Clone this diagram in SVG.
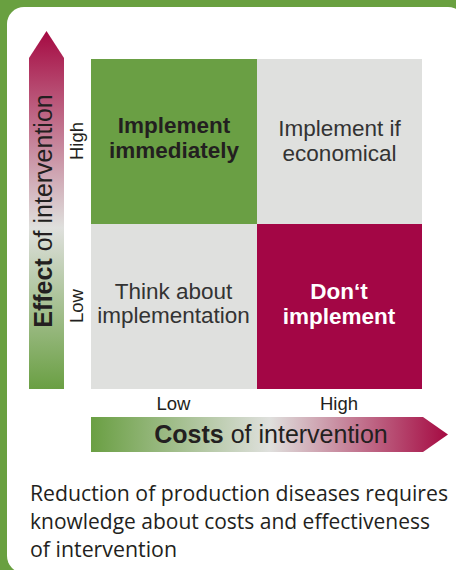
<svg xmlns="http://www.w3.org/2000/svg" width="456" height="570" viewBox="0 0 456 570">
  <defs>
    <linearGradient id="gradV" x1="0" y1="1" x2="0" y2="0">
      <stop offset="0" stop-color="#6a9f43"/>
      <stop offset="0.45" stop-color="#dfe0dd"/>
      <stop offset="1" stop-color="#a50a42"/>
    </linearGradient>
    <linearGradient id="gradH" x1="0" y1="0" x2="1" y2="0">
      <stop offset="0" stop-color="#6a9f43"/>
      <stop offset="0.5" stop-color="#dfe0dd"/>
      <stop offset="1" stop-color="#a50a42"/>
    </linearGradient>
    <style>
      .t { font-family: "Liberation Sans", Arial, sans-serif; }
      .cell-b { font-size: 22.5px; font-weight: bold; text-anchor: middle; }
      .cell-n { font-size: 22.5px; text-anchor: middle; fill: #333333; }
      .lvl { font-size: 18.5px; text-anchor: middle; fill: #231f20; }
      .axis { font-size: 25px; text-anchor: middle; fill: #231f20; }
      .cap { font-family: "Open Sans", "Noto Sans", sans-serif; font-size: 21px; fill: #231f20; }
    </style>
  </defs>

  <rect x="0" y="0" width="456" height="570" fill="#69a040"/>
  <rect id="card" x="7" y="7" width="458" height="566" rx="17" ry="17" fill="#ffffff"/>

  <g id="cell-implement-immediately">
    <rect x="91" y="59" width="166" height="165" fill="#6a9f44"/>
    <text class="t cell-b" fill="#231f20"><tspan x="174" y="133">Implement</tspan><tspan x="174" y="158">immediately</tspan></text>
  </g>
  <g id="cell-implement-if-economical">
    <rect x="257" y="59" width="165" height="165" fill="#dfe0de"/>
    <text class="t cell-n"><tspan x="339.5" y="136">Implement if</tspan><tspan x="339.5" y="161">economical</tspan></text>
  </g>
  <g id="cell-think-about">
    <rect x="91" y="224" width="166" height="165" fill="#dfe0de"/>
    <text class="t cell-n"><tspan x="173.5" y="299">Think about</tspan><tspan x="173.5" y="323">implementation</tspan></text>
  </g>
  <g id="cell-dont-implement">
    <rect x="257" y="224" width="165" height="165" fill="#a30645"/>
    <text class="t cell-b" fill="#ffffff"><tspan x="339" y="299">Don‘t</tspan><tspan x="339" y="324">implement</tspan></text>
  </g>

  <g id="axes">
    <g id="axis-effect">
      <polygon points="46.5,31 64,58 64,389 29,389 29,58" fill="url(#gradV)"/>
      <text class="t axis" transform="translate(52,211) rotate(-90)"><tspan font-weight="bold">Effect</tspan> of intervention</text>
      <text class="t lvl" transform="translate(83,141) rotate(-90)">High</text>
      <text class="t lvl" transform="translate(83,306) rotate(-90)">Low</text>
    </g>
    <g id="axis-costs">
      <polygon points="91,417 423,417 448,434.5 423,452 91,452" fill="url(#gradH)"/>
      <text class="t axis" x="271" y="443"><tspan font-weight="bold">Costs</tspan> of intervention</text>
      <text class="t lvl" x="173.5" y="410">Low</text>
      <text class="t lvl" x="339" y="410">High</text>
    </g>
  </g>

  <g id="caption">
    <text class="cap" x="30" y="501" textLength="418" lengthAdjust="spacingAndGlyphs">Reduction of production diseases requires</text>
    <text class="cap" x="30" y="529" textLength="400" lengthAdjust="spacingAndGlyphs">knowledge about costs and effectiveness</text>
    <text class="cap" x="30" y="557" textLength="147" lengthAdjust="spacingAndGlyphs">of intervention</text>
  </g>
</svg>
